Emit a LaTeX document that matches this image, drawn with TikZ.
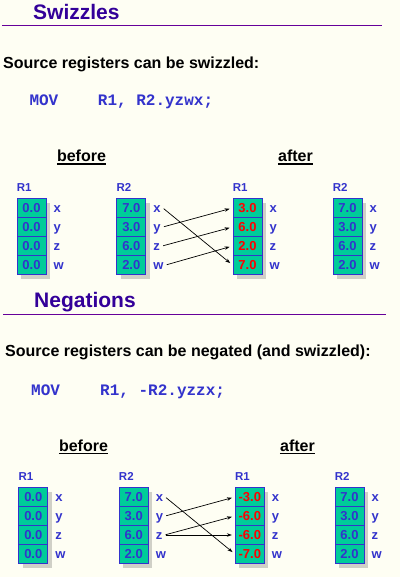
\documentclass[tikz,border=0pt]{standalone}
\usepackage{fontspec}
\setmainfont{Liberation Sans}
\setmonofont{Liberation Mono}
\usetikzlibrary{positioning,arrows.meta}
\definecolor{bgcream}{HTML}{FEFEF3}
\definecolor{titleindigo}{HTML}{330099}
\definecolor{rulepurple}{HTML}{660099}
\definecolor{regblue}{HTML}{3333CC}
\definecolor{regteal}{HTML}{00CC99}
\definecolor{newred}{HTML}{FF0000}

\begin{document}
\begin{tikzpicture}[x=1pt,y=-1pt,
    title/.style={anchor=base west,inner sep=0,text=titleindigo,font=\fontsize{21}{21}\selectfont\bfseries},
    rule/.style={rulepurple,line width=1.5pt},
    sentence/.style={anchor=base west,inner sep=0,font=\fontsize{16}{16}\selectfont\bfseries},
    code/.style={anchor=base west,inner sep=0,text=regblue,font=\fontsize{16}{16}\selectfont\ttfamily\bfseries},
    phase/.style={anchor=base,inner sep=0,font=\fontsize{16}{16}\selectfont\bfseries},
    ul/.style={line width=1.3pt},
    regname/.style={inner sep=0,text depth=0pt,text=regblue,font=\fontsize{11.5}{11.5}\selectfont\bfseries},
    cell/.style={draw=regblue,fill=regteal,line width=0.9pt,minimum width=29pt,minimum height=19pt,
        inner sep=0,text height=9pt,text depth=0pt,text=regblue,font=\fontsize{13}{13}\selectfont\bfseries},
    newcell/.style={cell,text=newred},
    comp/.style={inner sep=2pt,text height=8pt,text depth=0pt,text=regblue,font=\fontsize{13}{13}\selectfont\bfseries},
    boxshade/.style={fill=black,opacity=0.18},
    move/.style={-{Stealth[length=5pt,width=3.5pt]},line width=0.7pt,shorten <=1pt,shorten >=3pt}
]
\fill[bgcream] (0,0) rectangle (400,577);
\useasboundingbox (0,0) rectangle (400,577);

% swizzles
\node[title] (swt) at (33,19.5) {Swizzles};
\draw[rule] (2,25.5) -- (382,25.5);
\node[sentence] (sws) at (3,68.5) {Source registers can be swizzled:};
\node[code] (swop) at (29.3,106) {MOV};
\node[code] (swarg) at (97.7,106) {R1, R2.yzwx;};
\node[phase] (swbf) at (81.5,162) {before};
\node[phase] (swaf) at (295.5,162) {after};
\draw[ul] ([yshift=-2pt]swbf.base west) -- ([yshift=-2pt]swbf.base east);
\draw[ul] ([yshift=-2pt]swaf.base west) -- ([yshift=-2pt]swaf.base east);

\foreach \cx in {31.5,131.3,247.5,347.5}
    \fill[boxshade] (\cx-10.5,202.5) rectangle (\cx+18.5,278.5);
\foreach \c/\va/\vb/\vc/\vd [count=\i] in {x/0.0/7.0/3.0/7.0,y/0.0/3.0/6.0/3.0,z/0.0/6.0/2.0/6.0,w/0.0/2.0/7.0/2.0} {
    \node[cell] (sw-b1-\c) at (31.5,189+19*\i) {\va};
    \node[comp,right=5pt of sw-b1-\c] (sw-b1-l\c) {\c};
    \node[cell] (sw-b2-\c) at (131.3,189+19*\i) {\vb};
    \node[comp,right=5pt of sw-b2-\c] (sw-b2-l\c) {\c};
    \node[newcell] (sw-a1-\c) at (247.5,189+19*\i) {\vc};
    \node[comp,right=5pt of sw-a1-\c] (sw-a1-l\c) {\c};
    \node[cell] (sw-a2-\c) at (347.5,189+19*\i) {\vd};
    \node[comp,right=5pt of sw-a2-\c] (sw-a2-l\c) {\c};
}
\node[regname,above right=6pt and 0pt of sw-b1-x.north west] (sw-b1) {R1};
\node[regname,above right=6pt and 0pt of sw-b2-x.north west] (sw-b2) {R2};
\node[regname,above right=6pt and 0pt of sw-a1-x.north west] (sw-a1) {R1};
\node[regname,above right=6pt and 0pt of sw-a2-x.north west] (sw-a2) {R2};

\draw[move] (sw-b2-ly.east) -- (sw-a1-x.west);
\draw[move] (sw-b2-lz.east) -- (sw-a1-y.west);
\draw[move] (sw-b2-lw.east) -- (sw-a1-z.west);
\draw[move] (sw-b2-lx.east) -- (sw-a1-w.west);

% negations
\node[title] (ngt) at (34,307.3) {Negations};
\draw[rule] (3,314.5) -- (386,314.5);
\node[sentence] (ngs) at (5,356.7) {Source registers can be negated (and swizzled):};
\node[code] (ngop) at (31,395) {MOV};
\node[code] (ngarg) at (100,395) {R1, -R2.yzzx;};
\node[phase] (ngbf) at (83.5,451.5) {before};
\node[phase] (ngaf) at (297.5,451.5) {after};
\draw[ul] ([yshift=-2pt]ngbf.base west) -- ([yshift=-2pt]ngbf.base east);
\draw[ul] ([yshift=-2pt]ngaf.base west) -- ([yshift=-2pt]ngaf.base east);

\foreach \cx in {33.3,133.7,249.8,349.5}
    \fill[boxshade] (\cx-10.5,491.5) rectangle (\cx+18.5,567.5);
\foreach \c/\va/\vb/\vc/\vd [count=\i] in {x/0.0/7.0/-3.0/7.0,y/0.0/3.0/-6.0/3.0,z/0.0/6.0/-6.0/6.0,w/0.0/2.0/-7.0/2.0} {
    \node[cell] (ng-b1-\c) at (33.3,478+19*\i) {\va};
    \node[comp,right=5pt of ng-b1-\c] (ng-b1-l\c) {\c};
    \node[cell] (ng-b2-\c) at (133.7,478+19*\i) {\vb};
    \node[comp,right=5pt of ng-b2-\c] (ng-b2-l\c) {\c};
    \node[newcell] (ng-a1-\c) at (249.8,478+19*\i) {\vc};
    \node[comp,right=5pt of ng-a1-\c] (ng-a1-l\c) {\c};
    \node[cell] (ng-a2-\c) at (349.5,478+19*\i) {\vd};
    \node[comp,right=5pt of ng-a2-\c] (ng-a2-l\c) {\c};
}
\node[regname,above right=6pt and 0pt of ng-b1-x.north west] (ng-b1) {R1};
\node[regname,above right=6pt and 0pt of ng-b2-x.north west] (ng-b2) {R2};
\node[regname,above right=6pt and 0pt of ng-a1-x.north west] (ng-a1) {R1};
\node[regname,above right=6pt and 0pt of ng-a2-x.north west] (ng-a2) {R2};

\draw[move] (ng-b2-ly.east) -- (ng-a1-x.west);
\draw[move] (ng-b2-lz.east) -- (ng-a1-y.west);
\draw[move] (ng-b2-lz.east) -- (ng-a1-z.west);
\draw[move] (ng-b2-lx.east) -- (ng-a1-w.west);
\end{tikzpicture}
\end{document}
